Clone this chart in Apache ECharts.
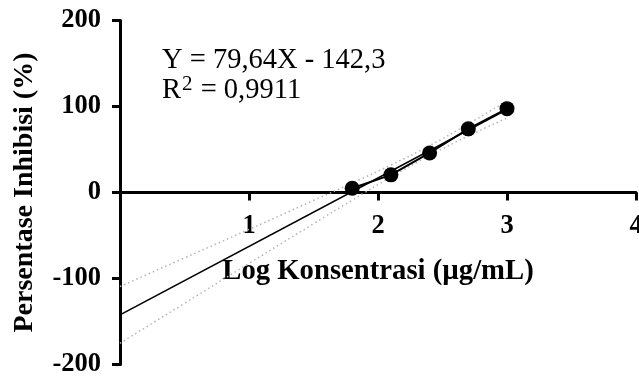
<!DOCTYPE html>
<html>
<head>
<meta charset="utf-8">
<script src="https://cdn.jsdelivr.net/npm/echarts@6/dist/echarts.min.js"></script>
<style>
html,body{margin:0;padding:0;background:#fff;}
#chart{width:639px;height:378px;}
</style>
</head>
<body>
<div id="chart"></div>
<script>
// Data
const xPoints = [1.8, 2.1, 2.4, 2.7, 3.0];
const yPoints = [5, 20.5, 46, 74, 97.5];
const fitX = [0, 3];
const fitY = [-142.3, 96.6];
const bandX = [0, 0.5, 1, 1.5, 1.8, 2.1, 2.4, 2.7, 3];
const bandUpper = [-109.3, -76.1, -42.9, -9.3, 11.0, 31.9, 54.5, 79.7, 106.6];
const bandLower = [-175.3, -128.9, -82.5, -36.3, -8.9, 17.9, 43.0, 65.7, 86.6];
const yTicks = [-200, -100, 0, 100, 200];
const xTicks = [0, 1, 2, 3, 4];
const xTitle = 'Log Konsentrasi (µg/mL)';
const yTitle = 'Persentase Inhibisi (%)';
const eqText = 'Y = 79,64X - 142,3';

const FONT = "'Liberation Serif','Times New Roman',serif";
const pair = (xs, ys) => xs.map((x, i) => [x, ys[i]]);

const GRID_TOP = 20.5, GRID_BOTTOM = 13.5, H = 378;
const plotH = H - GRID_TOP - GRID_BOTTOM;
// x axis sits at y = 0 (middle of the symmetric y range)
const xAxisOffset = -plotH * (0 - yTicks[0]) / (yTicks[yTicks.length - 1] - yTicks[0]);

const chart = echarts.init(document.getElementById('chart'), null, {renderer: 'canvas'});
chart.setOption({
  animation: false,
  backgroundColor: '#fff',
  grid: {left: 120, right: 3, top: GRID_TOP, bottom: GRID_BOTTOM, containLabel: false, outerBoundsMode: 'none'},
  xAxis: {
    type: 'value', min: xTicks[0], max: xTicks[xTicks.length - 1], interval: 1,
    position: 'bottom', offset: xAxisOffset,
    splitLine: {show: false},
    axisLine: {show: true, onZero: false, lineStyle: {color: '#000', width: 3}},
    axisTick: {show: true, length: 8, lineStyle: {color: '#000', width: 3}},
    axisLabel: {
      margin: 20, color: '#000', fontFamily: FONT, fontWeight: 'bold', fontSize: 26.5,
      formatter: v => (v === 0 ? '' : String(v))
    },
    name: xTitle, nameLocation: 'middle', nameGap: 65,
    nameTextStyle: {color: '#000', fontFamily: FONT, fontWeight: 'bold', fontSize: 28.7}
  },
  yAxis: {
    type: 'value', min: yTicks[0], max: yTicks[yTicks.length - 1], interval: 100,
    splitLine: {show: false},
    axisLine: {show: true, onZero: false, lineStyle: {color: '#000', width: 3}},
    axisTick: {show: true, length: 8, lineStyle: {color: '#000', width: 3}},
    axisLabel: {margin: 19, color: '#000', fontFamily: FONT, fontWeight: 'bold', fontSize: 26.5},
    name: yTitle, nameLocation: 'middle', nameGap: 81,
    nameTextStyle: {color: '#000', fontFamily: FONT, fontWeight: 'bold', fontSize: 28}
  },
  series: [
    {type: 'line', data: pair(bandX, bandUpper), smooth: true, symbol: 'none', z: 1,
     lineStyle: {color: '#b4b4b4', width: 1.5, type: [1.5, 3]}},
    {type: 'line', data: pair(bandX, bandLower), smooth: true, symbol: 'none', z: 1,
     lineStyle: {color: '#b4b4b4', width: 1.5, type: [1.5, 3]}},
    {type: 'line', data: pair(fitX, fitY), symbol: 'none', z: 2,
     lineStyle: {color: '#000', width: 1.6}},
    {type: 'line', data: pair(xPoints, yPoints), symbol: 'circle', symbolSize: 15, z: 3,
     itemStyle: {color: '#000'}, lineStyle: {color: '#000', width: 2}}
  ],
  graphic: [
    {type: 'text', left: 162, top: 46, style: {text: eqText, font: '28.5px ' + FONT, fill: '#000'}},
    {type: 'text', left: 162, top: 74, style: {
      text: 'R{sup|2} = 0,9911',
      font: '28.5px ' + FONT, fill: '#000',
      rich: {sup: {fontSize: 21, fontFamily: FONT, verticalAlign: 'top', padding: [0, 1, 12, 1]}}
    }}
  ]
});
</script>
</body>
</html>
